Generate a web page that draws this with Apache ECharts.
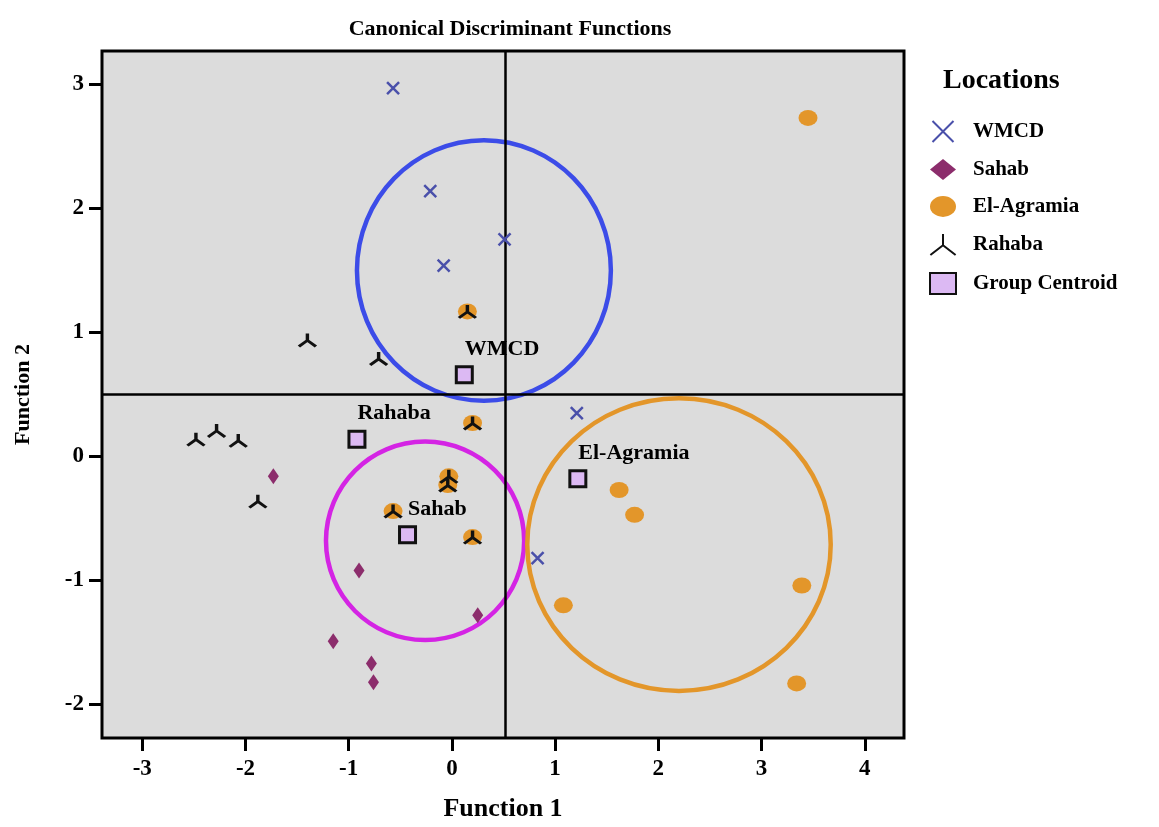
<!DOCTYPE html>
<html>
<head>
<meta charset="utf-8">
<script src="https://cdn.jsdelivr.net/npm/echarts@6/dist/echarts.min.js"></script>
<style>html,body{margin:0;padding:0;background:#fff}#c{width:1159px;height:827px}</style>
</head>
<body>
<div id="c"></div>
<script>
// ---- data ----
const xTicks = [-3, -2, -1, 0, 1, 2, 3, 4];
const yTicks = [-2, -1, 0, 1, 2, 3];
const wmcd = [[-0.57, 2.97], [-0.21, 2.14], [0.51, 1.75], [-0.08, 1.54], [1.21, 0.35], [0.83, -0.82]];
const sahab = [[-1.73, -0.16], [-0.90, -0.92], [0.25, -1.28], [-1.15, -1.49], [-0.78, -1.67], [-0.76, -1.82]];
const elAgramia = [[3.45, 2.73], [1.62, -0.27], [1.77, -0.47], [1.08, -1.20], [3.39, -1.04], [3.34, -1.83],
                   [0.15, 1.17], [0.20, 0.27], [-0.03, -0.16], [-0.04, -0.23], [-0.57, -0.44], [0.20, -0.65]];
const rahaba = [[-1.40, 0.94], [-0.71, 0.79], [-2.48, 0.14], [-2.28, 0.21], [-2.07, 0.13], [-1.88, -0.36],
                [0.15, 1.17], [0.20, 0.27], [-0.03, -0.16], [-0.04, -0.23], [-0.57, -0.44], [0.20, -0.65]];
const centroidNames = ['WMCD', 'Rahaba', 'Sahab', 'El-Agramia'];
const centroids = [[0.12, 0.66], [-0.92, 0.14], [-0.43, -0.63], [1.22, -0.18]];
// group ellipses: centre x, centre y, half-width (x units), half-height (y units)
const groupRegions = [[0.31, 1.50, 1.23, 1.05], [-0.26, -0.68, 0.96, 0.80], [2.20, -0.71, 1.47, 1.18]];
const refX = 0.52, refY = 0.5;

// ---- styles ----
const FONT = '"Liberation Serif", "Times New Roman", serif';
const regionColors = ['#3c4ce8', '#d424e4', '#e3962a'];
const triPath = 'path://M10,8 L10,0 M10,8 L1,15 M10,8 L19,15';
const xPath = 'path://M0,0 L10,10 M10,0 L0,10';
const ellPath = 'path://M0,8 A10,8 0 1,0 20,8 A10,8 0 1,0 0,8 Z';

const chart = echarts.init(document.getElementById('c'), null, {renderer: 'canvas'});

const axisCommon = {
  type: 'value',
  splitLine: {show: false},
  axisLine: {show: false, onZero: false},
  axisTick: {show: true, length: 13, lineStyle: {color: '#000', width: 3}},
  axisLabel: {color: '#000', fontSize: 23, fontWeight: 'bold', fontFamily: FONT},
  nameTextStyle: {color: '#000', fontWeight: 'bold', fontFamily: FONT}
};

chart.setOption({
  animation: false,
  backgroundColor: '#fff',
  title: [
    {text: 'Canonical Discriminant Functions', left: 505, top: 13, textAlign: 'center',
     textStyle: {fontSize: 22, fontWeight: 'bold', fontFamily: FONT, color: '#000'}},
    {text: 'Locations', left: 938, top: 62,
     textStyle: {fontSize: 28, fontWeight: 'bold', fontFamily: FONT, color: '#000'}}
  ],
  grid: {left: 102, right: 255, top: 51, bottom: 86, show: true, backgroundColor: '#dcdcdc',
         borderColor: '#000', borderWidth: 3},
  legend: {
    orient: 'vertical', left: 924, top: 115, itemGap: 16, itemWidth: 26, itemHeight: 21,
    data: ['WMCD', 'Sahab', 'El-Agramia', 'Rahaba', 'Group Centroid'],
    textStyle: {fontSize: 21, fontWeight: 'bold', fontFamily: FONT, color: '#000', padding: [0, 0, 0, 12]}
  },
  xAxis: Object.assign({}, axisCommon, {
    min: -3.39, max: 4.38,
    name: 'Function 1', nameLocation: 'middle', nameGap: 58,
    nameTextStyle: {color: '#000', fontWeight: 'bold', fontFamily: FONT, fontSize: 26},
    axisTick: Object.assign({}, axisCommon.axisTick, {customValues: xTicks}),
    axisLabel: Object.assign({}, axisCommon.axisLabel, {customValues: xTicks, margin: 20})
  }),
  yAxis: Object.assign({}, axisCommon, {
    min: -2.27, max: 3.27,
    name: 'Function 2', nameLocation: 'middle', nameGap: 68, nameRotate: 90,
    nameTextStyle: {color: '#000', fontWeight: 'bold', fontFamily: FONT, fontSize: 22},
    axisTick: Object.assign({}, axisCommon.axisTick, {customValues: yTicks}),
    axisLabel: Object.assign({}, axisCommon.axisLabel, {customValues: yTicks, margin: 18})
  }),
  series: [
    {
      type: 'custom', name: 'regions', z: 1, silent: true,
      data: groupRegions,
      encode: {x: 0, y: 1},
      renderItem: function (params, api) {
        const c = api.coord([api.value(0), api.value(1)]);
        const s = api.size([api.value(2), api.value(3)]);
        return {type: 'ellipse', shape: {cx: c[0], cy: c[1], rx: s[0], ry: s[1]},
                style: {fill: 'none', stroke: regionColors[params.dataIndex], lineWidth: 4.5}};
      }
    },
    {
      type: 'line', name: 'ref', data: [], z: 0, silent: true,
      markLine: {silent: true, symbol: 'none', label: {show: false},
                 lineStyle: {color: '#000', width: 2.5, type: 'solid'},
                 data: [{xAxis: refX}, {yAxis: refY}]}
    },
    {
      type: 'scatter', name: 'WMCD', data: wmcd, z: 5,
      symbol: xPath, symbolSize: 12,
      itemStyle: {color: '#4a50aa', borderColor: '#4a50aa', borderWidth: 2.5, opacity: 1}
    },
    {
      type: 'scatter', name: 'Sahab', data: sahab, z: 5,
      symbol: 'diamond', symbolSize: [11, 16],
      itemStyle: {color: '#8c2d6c', opacity: 1}
    },
    {
      type: 'scatter', name: 'El-Agramia', data: elAgramia, z: 5,
      symbol: ellPath, symbolSize: [19, 16],
      itemStyle: {color: '#e3962a', opacity: 1}
    },
    {
      type: 'scatter', name: 'Rahaba', data: rahaba, z: 6,
      symbol: triPath, symbolSize: [17, 13],
      itemStyle: {color: '#111', borderColor: '#111', borderWidth: 3, opacity: 1}
    },
    {
      type: 'scatter', name: 'Group Centroid', z: 7,
      data: centroids.map((v, i) => ({name: centroidNames[i], value: v})),
      symbol: 'rect', symbolSize: 16,
      itemStyle: {color: '#dcb9f3', borderColor: '#111', borderWidth: 3, opacity: 1},
      label: {show: true, formatter: '{b}', position: [10, -27], align: 'left', verticalAlign: 'top',
              fontSize: 22, fontWeight: 'bold', fontFamily: FONT, color: '#000'}
    }
  ]
});
</script>
</body>
</html>
